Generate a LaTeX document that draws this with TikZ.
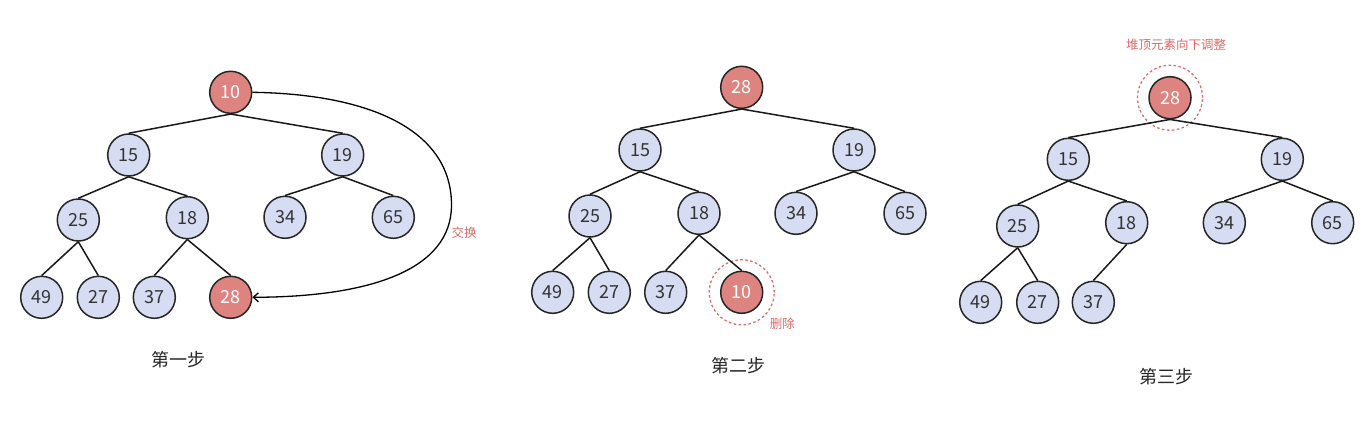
\documentclass[tikz,border=0pt]{standalone}
\usepackage{fontspec}
\setmainfont{Noto Sans CJK SC}
\usetikzlibrary{arrows.meta}
\definecolor{nblue}{HTML}{D6DCF2}
\definecolor{nred}{HTML}{DE8480}
\definecolor{lred}{HTML}{E06A66}
\definecolor{ntext}{HTML}{333333}
\tikzset{
  hn/.style={circle,draw=black!85,line width=1.5pt,fill=nblue,minimum size=42pt,inner sep=0pt,text=ntext,font=\fontsize{18}{18}\selectfont},
  rn/.style={hn,fill=nred,text=white},
  ed/.style={line width=1.5pt,black!90},
  ring/.style={circle,draw=lred,dashed,dash pattern=on 2.5pt off 2.5pt,line width=1.3pt,minimum size=65pt,inner sep=0pt},
  steplabel/.style={font=\fontsize{18}{18}\selectfont,text=black!85},
  note/.style={font=\fontsize{12.5}{12.5}\selectfont,text=lred}
}
\begin{document}
\begin{tikzpicture}[x=1pt,y=-1pt]
\useasboundingbox (0,0) rectangle (1370,428);
% ---------- step 1
\node[rn] (a10) at (230.7,92.3) {10};
\node[hn] (a15) at (128.7,155) {15};
\node[hn] (a19) at (342.7,155) {19};
\node[hn] (a25) at (78.3,220) {25};
\node[hn] (a18) at (187.3,217.7) {18};
\node[hn] (a34) at (285,217.3) {34};
\node[hn] (a65) at (393.3,217.3) {65};
\node[hn] (a49) at (41.7,297.3) {49};
\node[hn] (a27) at (98.3,297.3) {27};
\node[hn] (a37) at (154.3,297.3) {37};
\node[rn] (a28) at (230.7,297.3) {28};
\foreach \p/\c in {a10/a15,a10/a19,a15/a25,a15/a18,a19/a34,a19/a65,a25/a49,a25/a27,a18/a37,a18/a28}
  \draw[ed] (\p.south) -- (\c.north);
\coordinate (sw) at (451.5,205);
\draw[line width=1.3pt,-{Straight Barb[length=5pt,width=9pt]}] (a10.east) .. controls (370,94) and (451.5,130) .. (sw) .. controls (451.5,270) and (370,297) .. (a28.east);
\node[note] (t1) at (464,233) {交换};
\node[steplabel] (c1) at (178.3,360) {第一步};
% ---------- step 2
\node[rn] (b28) at (741.7,87.3) {28};
\node[hn] (b15) at (640,150) {15};
\node[hn] (b19) at (854,150) {19};
\node[hn] (b25) at (590,216) {25};
\node[hn] (b18) at (699,213.3) {18};
\node[hn] (b34) at (796,213.3) {34};
\node[hn] (b65) at (905,213.3) {65};
\node[hn] (b49) at (552.7,292.3) {49};
\node[hn] (b27) at (609.3,292.3) {27};
\node[hn] (b37) at (665.7,292.3) {37};
\node[rn] (b10) at (741.7,292.3) {10};
\node[ring] (br) at (741.7,292.3) {};
\foreach \p/\c in {b28/b15,b28/b19,b15/b25,b15/b18,b19/b34,b19/b65,b25/b49,b25/b27,b18/b37,b18/b10}
  \draw[ed] (\p.south) -- (\c.north);
\node[note] (t2) at (782.3,324) {删除};
\node[steplabel] (c2) at (738.3,366) {第二步};
% ---------- step 3
\node[rn] (c28) at (1170,97.7) {28};
\node[ring] (cr) at (1170,97.7) {};
\node[hn] (c15) at (1068.3,159.3) {15};
\node[hn] (c19) at (1282.3,159.3) {19};
\node[hn] (c25) at (1017.7,226) {25};
\node[hn] (c18) at (1126.7,222.7) {18};
\node[hn] (c34) at (1224.3,222.7) {34};
\node[hn] (c65) at (1332.7,222.7) {65};
\node[hn] (c49) at (980.7,302.3) {49};
\node[hn] (c27) at (1037.7,302.3) {27};
\node[hn] (c37) at (1093.3,302.3) {37};
\foreach \p/\c in {c28/c15,c28/c19,c15/c25,c15/c18,c19/c34,c19/c65,c25/c49,c25/c27,c18/c37}
  \draw[ed] (\p.south) -- (\c.north);
\node[note] (t3) at (1176,45) {堆顶元素向下调整};
\node[steplabel] (c3) at (1166.7,377) {第三步};
\end{tikzpicture}
\end{document}
